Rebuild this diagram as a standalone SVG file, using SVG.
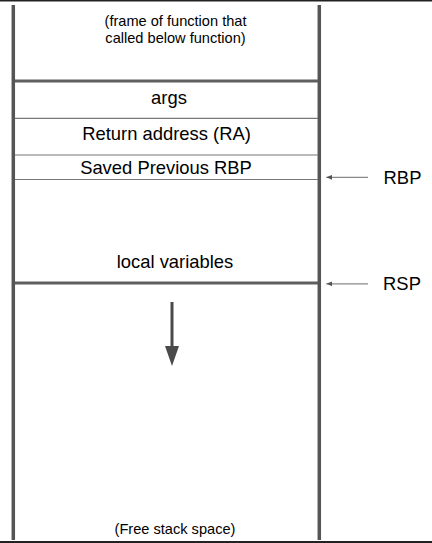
<svg xmlns="http://www.w3.org/2000/svg" width="432" height="543" viewBox="0 0 432 543">
<defs>
<style>
.t{font-family:"Liberation Sans",Arial,sans-serif;fill:#000;text-anchor:middle}
.big{font-size:18.4px}
.sm{font-size:14.6px}
.wall{stroke:#555;stroke-width:3.5}
.thick{stroke:#5f5f5f;stroke-width:3}
.thin{stroke:#777;stroke-width:1.2}
.ptr{stroke:#888;stroke-width:1.3;fill:none}
</style>
<marker id="ah" viewBox="0 0 6 5" refX="6" refY="2.5" markerWidth="6" markerHeight="5" markerUnits="userSpaceOnUse" orient="auto">
<path d="M0,0 L6,2.5 L0,5 z" fill="#555"/>
</marker>
</defs>
<rect width="432" height="543" fill="#fff"/>
<rect x="0" y="0" width="432" height="1.5" fill="#222"/>
<rect x="0" y="541" width="432" height="2" fill="#222"/>
<g id="stack">
<line class="wall" x1="13.3" y1="5" x2="13.3" y2="540"/>
<line class="wall" x1="319.3" y1="5" x2="319.3" y2="540"/>
</g>
<g id="caller-frame">
<text class="t sm" x="175.5" y="26.3">(frame of function that</text>
<text class="t sm" x="175.5" y="43.3">called below function)</text>
<line class="thick" x1="15" y1="81" x2="318" y2="81"/>
</g>
<g id="args">
<text class="t big" x="169" y="104">args</text>
<line class="thin" x1="15" y1="118.3" x2="318" y2="118.3"/>
</g>
<g id="ra">
<text class="t big" x="166.5" y="140">Return address (RA)</text>
<line class="thin" x1="15" y1="155" x2="318" y2="155"/>
</g>
<g id="saved-rbp">
<text class="t big" x="166" y="174">Saved Previous RBP</text>
<line class="thin" x1="15" y1="179.5" x2="318" y2="179.5"/>
</g>
<g id="locals">
<text class="t big" x="175" y="268">local variables</text>
<line class="thick" x1="15" y1="283" x2="318" y2="283"/>
</g>
<g id="free">
<text class="t sm" x="175" y="533.5">(Free stack space)</text>
</g>
<g id="rbp-label">
<text class="t big" x="402.5" y="183.5">RBP</text>
</g>
<g id="rsp-label">
<text class="t big" x="402" y="290">RSP</text>
</g>
<g id="connectors">
<line class="ptr" x1="368" y1="177.3" x2="326.3" y2="177.3" marker-end="url(#ah)"/>
<line class="ptr" x1="368" y1="283.8" x2="326.3" y2="283.8" marker-end="url(#ah)"/>
<line x1="172" y1="302" x2="172" y2="348" stroke="#4a4a4a" stroke-width="3"/>
<path d="M165,346 L179,346 L172,366 z" fill="#4a4a4a"/>
</g>
</svg>
